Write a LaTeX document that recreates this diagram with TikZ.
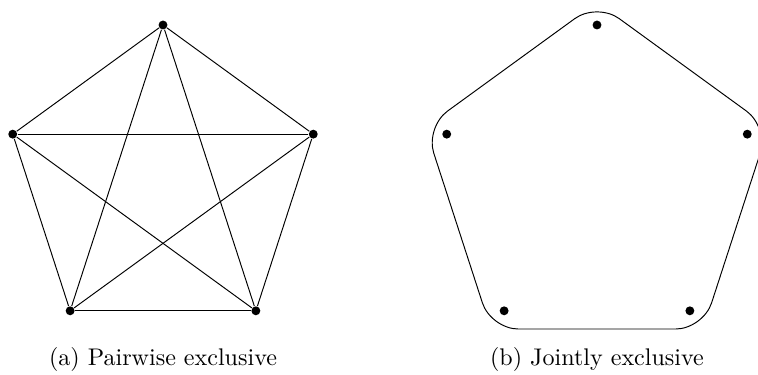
\documentclass[tikz,border=0pt]{standalone}
\usepackage{amsmath}
\usepackage{tikz}
\begin{document}
\begin{tikzpicture}[x=0.0146cm,y=0.0146cm,
	vertex/.style={circle,fill=black,inner sep=0pt,minimum size=1.3mm}]
	\useasboundingbox (0,0) rectangle (758,375);
	\def\radius{158}
	\def\outer{180.5}
	
	% pairwise: complete graph on five events
	\begin{scope}[shift={(163,192)}]
		\foreach \i in {0,...,4}
			\node[vertex] (p\i) at ({90+72*\i}:\radius) {};
		\foreach \i in {0,...,4}
			\foreach \j in {0,...,4}
				{\ifnum\i<\j \draw (p\i) -- (p\j); \fi}
	\end{scope}
	\node (capa) at (163,16) {(a) Pairwise exclusive};
	
	% jointly: one hull round all five
	\begin{scope}[shift={(597,192)}]
		\foreach \i in {0,...,4}
			\node[vertex] (q\i) at ({90+72*\i}:\radius) {};
		\draw[rounded corners=4mm] (90:\outer) -- (162:\outer) -- (234:\outer)
			-- (306:\outer) -- (18:\outer) -- cycle;
	\end{scope}
	\node (capb) at (597,16) {(b) Jointly exclusive};
\end{tikzpicture}
\end{document}
